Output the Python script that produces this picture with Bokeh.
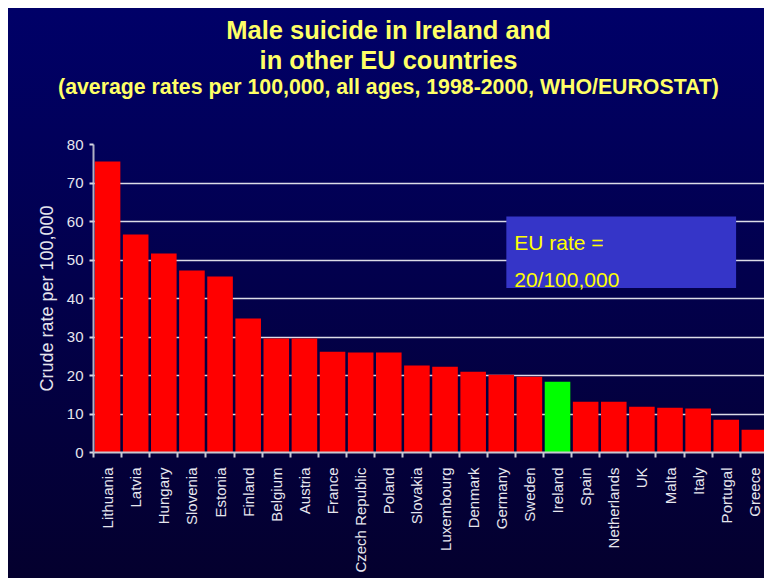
from bokeh.plotting import figure
from bokeh.layouts import column
from bokeh.models import (Range1d, FixedTicker, ColumnDataSource, BoxAnnotation,
                          Label, CustomJSTickFormatter)
from bokeh.embed import file_html
from bokeh.resources import INLINE
import math

countries = ["Lithuania", "Latvia", "Hungary", "Slovenia", "Estonia", "Finland",
             "Belgium", "Austria", "France", "Czech Republic", "Poland", "Slovakia",
             "Luxembourg", "Denmark", "Germany", "Sweden", "Ireland", "Spain",
             "Netherlands", "UK", "Malta", "Italy", "Portugal", "Greece"]
rates = [75.6, 56.6, 51.7, 47.3, 45.7, 34.8, 29.6, 29.6, 26.2, 26.0, 26.0, 22.6,
         22.3, 21.0, 20.2, 19.7, 18.4, 13.2, 13.2, 11.9, 11.6, 11.4, 8.5, 5.9]
y_ticks = [0, 10, 20, 30, 40, 50, 60, 70, 80]
highlight = "Ireland"

title_lines = ["Male suicide in Ireland and", "in other EU countries",
               "(average rates per 100,000, all ages, 1998-2000, WHO/EUROSTAT)"]
box_lines = ["EU rate =", "20/100,000"]
y_label = "Crude rate per 100,000"

FONT = "Liberation Sans"
LABEL_COLOR = "#e6e6ee"
TOP_H = 134

# ---------------- title strip ----------------
tp = figure(width=764, height=TOP_H, output_backend="svg", toolbar_location=None,
            x_range=Range1d(0, 764), y_range=Range1d(TOP_H, 0), min_border=0,
            x_axis_location=None, y_axis_location=None, outline_line_color=None,
            border_fill_color=None, background_fill_color=None)
tp.frame_align = False
tp.grid.visible = False
tp.styles = {"background": "linear-gradient(to bottom, #000068 0%, #01005b 100%) "
                           "8px 8px / calc(100% - 8px) calc(100% - 8px) no-repeat, #ffffff"}
for txt, yy, fs in zip(title_lines, [29, 59, 86], ["25.5px", "25.5px", "21.3px"]):
    tp.add_layout(Label(x=388, y=yy, text=txt, text_font=FONT, text_font_size=fs,
                        text_font_style="bold", text_color="#ffff66",
                        text_baseline="alphabetic", text_align="center"))

# ---------------- chart ----------------
xs = [i + 0.5 for i in range(len(countries))]
colors = ["#00ff00" if c == highlight else "#ff0000" for c in countries]
src = ColumnDataSource(dict(x=xs, rate=rates, color=colors, name=countries))

p = figure(width=764, height=578 - TOP_H, output_backend="svg", toolbar_location=None,
           x_range=Range1d(0, 23.86), y_range=Range1d(0, 80),
           min_border_left=93, min_border_right=0, min_border_top=10,
           min_border_bottom=126, border_fill_color=None,
           background_fill_color=None, outline_line_color=None)
p.frame_align = False
p.styles = {"background": "linear-gradient(to bottom, #01005b 0%, #04002e 100%) "
                          "8px 0px / calc(100% - 8px) 100% no-repeat, #ffffff"}

p.vbar(x="x", top="rate", width=0.91, fill_color="color", line_color=None, source=src)

# y axis
p.yaxis.ticker = FixedTicker(ticks=y_ticks)
p.yaxis.axis_line_color = "#b0b0c4"
p.yaxis.axis_line_width = 2
p.yaxis.major_tick_line_color = "#d8d8e4"
p.yaxis.major_tick_line_width = 2
p.yaxis.major_tick_out = 4
p.yaxis.major_tick_in = 0
p.yaxis.minor_tick_line_color = None
p.yaxis.major_label_text_font = FONT
p.yaxis.major_label_text_font_size = "15px"
p.yaxis.major_label_text_color = LABEL_COLOR
p.yaxis.major_label_standoff = 6
p.yaxis.axis_label = y_label
p.yaxis.axis_label_text_font = FONT
p.yaxis.axis_label_text_font_style = "normal"
p.yaxis.axis_label_text_font_size = "18px"
p.yaxis.axis_label_text_color = LABEL_COLOR
p.yaxis.axis_label_standoff = 7

# x axis
p.xaxis.ticker = FixedTicker(ticks=xs, minor_ticks=list(range(len(countries) + 1)))
p.xaxis.formatter = CustomJSTickFormatter(args=dict(labels=countries),
                                          code="return labels[Math.floor(tick)];")
p.xaxis.major_label_orientation = math.pi / 2
p.xaxis.axis_line_color = "#c8c8d0"
p.xaxis.axis_line_width = 2
p.xaxis.major_tick_line_color = None
p.xaxis.major_tick_out = 0
p.xaxis.major_tick_in = 0
p.xaxis.minor_tick_line_color = "#c8c8d0"
p.xaxis.minor_tick_line_width = 2
p.xaxis.minor_tick_out = 5
p.xaxis.minor_tick_in = 0
p.xaxis.major_label_text_font = FONT
p.xaxis.major_label_text_font_size = "15px"
p.xaxis.major_label_text_color = LABEL_COLOR
p.xaxis.major_label_standoff = 10

# grid
p.xgrid.grid_line_color = None
p.ygrid.ticker = FixedTicker(ticks=y_ticks)
p.ygrid.grid_line_color = "#dcdce8"
p.ygrid.grid_line_width = 1.5

# EU rate box
p.add_layout(BoxAnnotation(left=14.68, right=22.85, top=61.3, bottom=42.7,
                           fill_color="#3535c8", fill_alpha=1.0, line_color=None))
for txt, yy in zip(box_lines, [54.6, 44.9]):
    p.add_layout(Label(x=14.96, y=yy, text=txt, text_font=FONT, text_font_size="21px",
                       text_color="#ffff00", text_baseline="alphabetic", text_align="left"))

layout = column(tp, p, spacing=0)
open("out.html", "w").write(file_html(layout, INLINE))
